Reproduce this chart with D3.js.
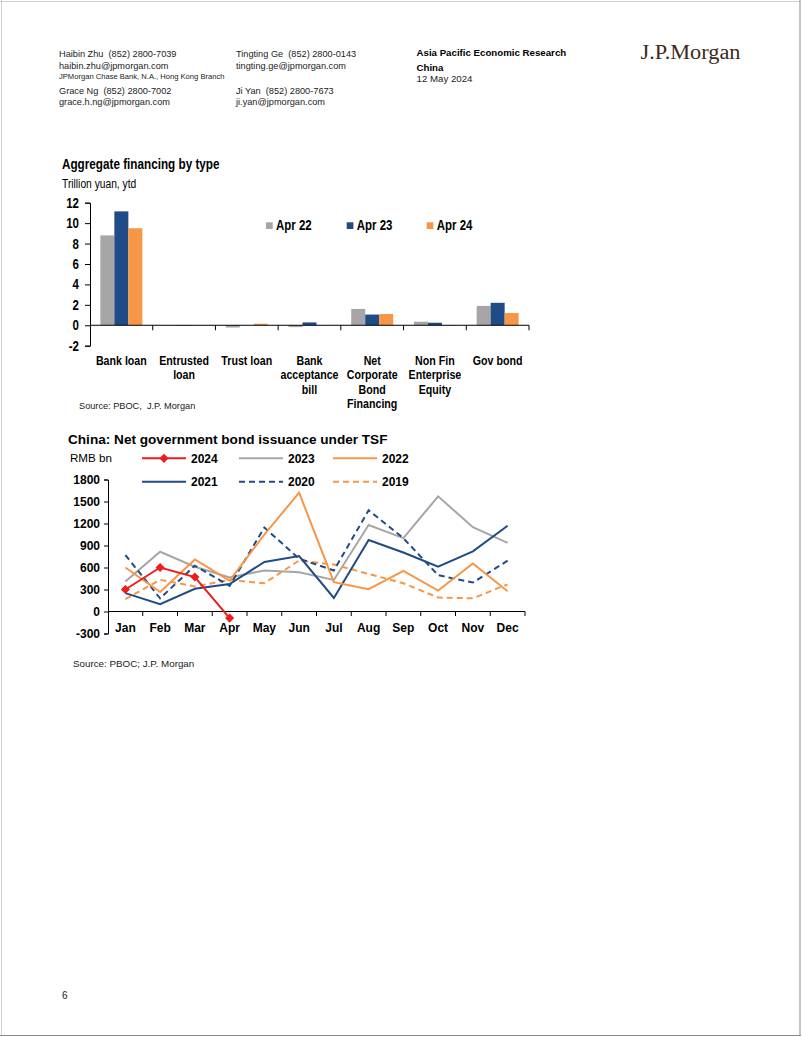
<!DOCTYPE html>
<html><head><meta charset="utf-8">
<script src="https://cdn.jsdelivr.net/npm/d3@7"></script>
<style>
html,body{margin:0;padding:0;background:#fff;}
svg{display:block;}
text{font-family:'Liberation Sans',Arial,sans-serif;fill:#000;white-space:pre;}
</style></head><body>
<svg id="page" width="802" height="1037"></svg>
<script>
// ---------- data: bar chart ----------
const barCategories = [["Bank loan"],["Entrusted","loan"],["Trust loan"],["Bank","acceptance","bill"],["Net","Corporate","Bond","Financing"],["Non Fin","Enterprise","Equity"],["Gov bond"]];
const barSeries = ["Apr 22","Apr 23","Apr 24"];
const apr22 = [8.8, 0.02, -0.22, -0.18, 1.6, 0.35, 1.9];
const apr23 = [11.15, -0.03, 0.0, 0.28, 1.05, 0.25, 2.2];
const apr24 = [9.5, 0.02, 0.15, 0.02, 1.1, 0.03, 1.2];
const barTicks = [-2, 0, 2, 4, 6, 8, 10, 12];

// ---------- data: line chart ----------
const months = ["Jan","Feb","Mar","Apr","May","Jun","Jul","Aug","Sep","Oct","Nov","Dec"];
const y2024 = [300, 600, 470, -90];
const y2023 = [410, 815, 610, 465, 560, 535, 430, 1180, 1000, 1570, 1150, 935];
const y2022 = [600, 265, 710, 420, 1050, 1620, 400, 305, 555, 285, 655, 275];
const y2021 = [250, 100, 310, 375, 675, 755, 185, 975, 805, 612, 820, 1170];
const y2020 = [770, 180, 625, 350, 1145, 720, 560, 1380, 1000, 495, 395, 693];
const y2019 = [170, 432, 342, 430, 385, 695, 640, 512, 385, 190, 180, 370];
const lineSeriesNames = ["2024","2023","2022","2021","2020","2019"];
const lineTicks = [-300, 0, 300, 600, 900, 1200, 1500, 1800];

const C = {gray:"#A6A6A6", navy:"#1F4B87", orange:"#F79646", red:"#EE1C1C"};
const NS = 0.82; // narrow-font horizontal compression
const svg = d3.select("#page");
function narrowText(parent, x, y, size, bold, str, anchor){
  const t = parent.append("text").attr("transform",`translate(${x},${y}) scale(${NS},1)`)
    .style("font-size",size+"px").style("font-weight",bold?"bold":"normal");
  if(anchor) t.attr("text-anchor",anchor);
  if(str!=null) t.text(str);
  return t;
}

// page border
svg.append("line").attr("x1",1.5).attr("y1",0).attr("x2",1.5).attr("y2",1035).attr("stroke","#d0d0d0");
svg.append("line").attr("x1",0).attr("y1",1.5).attr("x2",800).attr("y2",1.5).attr("stroke","#d0d0d0");
svg.append("line").attr("x1",800).attr("y1",0).attr("x2",800).attr("y2",1036).attr("stroke","#888");
svg.append("line").attr("x1",0).attr("y1",1035.5).attr("x2",801).attr("y2",1035.5).attr("stroke","#888");

// ---------- header ----------
const hl = [
  [59,57,9.2,"Haibin Zhu  (852) 2800-7039"],[59,68.7,9.2,"haibin.zhu@jpmorgan.com"],
  [59,79.3,7.6,"JPMorgan Chase Bank, N.A., Hong Kong Branch"],
  [59,93.7,9.2,"Grace Ng  (852) 2800-7002"],[59,105.3,9.2,"grace.h.ng@jpmorgan.com"],
  [236,57,9.2,"Tingting Ge  (852) 2800-0143"],[236,68.7,9.2,"tingting.ge@jpmorgan.com"],
  [236,93.7,9.2,"Ji Yan  (852) 2800-7673"],[236,105.3,9.2,"ji.yan@jpmorgan.com"]];
hl.forEach(d=>svg.append("text").attr("x",d[0]).attr("y",d[1]).style("font-size",d[2]+"px").style("fill","#222").text(d[3]));
svg.append("text").attr("x",416.5).attr("y",56.3).style("font-size","9.7px").style("font-weight","bold").text("Asia Pacific Economic Research");
svg.append("text").attr("x",416.5).attr("y",70.7).style("font-size","9.7px").style("font-weight","bold").text("China");
svg.append("text").attr("x",416.5).attr("y",82.3).style("font-size","9.7px").style("fill","#222").text("12 May 2024");
svg.append("text").attr("x",640.5).attr("y",59).attr("textLength",100).attr("lengthAdjust","spacingAndGlyphs")
  .style("font-family","'Liberation Serif','Times New Roman',serif").style("font-size","20px").style("fill","#3b2a20").text("J.P.Morgan");
svg.append("text").attr("x",62).attr("y",999).style("font-size","10px").style("fill","#222").text("6");

// ---------- bar chart ----------
{
  const g = svg.append("g");
  const x = d3.scaleBand().domain(d3.range(barCategories.length)).range([90,529]).paddingInner(0).paddingOuter(0);
  const xs = d3.scaleBand().domain(barSeries).range([0,x.bandwidth()]).paddingInner(0).paddingOuter(0.74);
  const y = d3.scaleLinear().domain([-2,12]).range([345.7,202.7]);
  const vals = [apr22, apr23, apr24];
  const cols = [C.gray, C.navy, C.orange];

  narrowText(g, 62, 169, 14.3, true, "Aggregate financing by type");
  narrowText(g, 62, 188.3, 12.5, false, "Trillion yuan, ytd");

  barSeries.forEach((s,si)=>{
    g.append("g").selectAll("rect").data(vals[si]).join("rect")
      .attr("x",(d,i)=>x(i)+xs(s)).attr("width",xs.bandwidth())
      .attr("y",d=>y(Math.max(0,d))).attr("height",d=>Math.abs(y(d)-y(0)))
      .attr("fill",cols[si]);
  });

  const ya = d3.axisLeft(y).tickValues(barTicks).tickSize(5).tickPadding(6).tickFormat(d3.format("d"));
  const yg = g.append("g").attr("transform","translate(90,0)").call(ya);
  yg.select(".domain").attr("stroke","#000");
  yg.selectAll(".tick line").attr("stroke","#000");
  yg.selectAll(".tick text").attr("x",-11/NS).attr("transform",`scale(${NS},1)`)
    .style("font-size","14px").style("font-weight","bold").attr("fill","#000").text(d=>d<0?"-"+Math.abs(d):d);

  // x axis at zero
  g.append("line").attr("x1",90).attr("x2",529).attr("y1",y(0)).attr("y2",y(0)).attr("stroke","#000");
  g.selectAll(".xt").data(d3.range(1,barCategories.length+1)).join("line").attr("class","xt")
    .attr("x1",d=>90+d*x.step()).attr("x2",d=>90+d*x.step()).attr("y1",y(0)).attr("y2",y(0)+5).attr("stroke","#000");
  barCategories.forEach((lines,i)=>{
    const t = narrowText(g, x(i)+x.bandwidth()/2, 0, 13, true, null, "middle");
    lines.forEach((l,j)=>t.append("tspan").attr("x",0).attr("y",365+j*14.5).text(l));
  });

  // legend
  const lx = [266, 346.7, 426.7];
  barSeries.forEach((s,i)=>{
    g.append("rect").attr("x",lx[i]).attr("y",222.3).attr("width",6.7).attr("height",6.7).attr("fill",cols[i]);
    narrowText(g, lx[i]+10, 229.5, 14, true, s);
  });
  g.append("text").attr("x",79).attr("y",409.3).style("font-size","9.2px").style("fill","#222").text("Source: PBOC,  J.P. Morgan");
}

// ---------- line chart ----------
{
  const g = svg.append("g");
  const x = d3.scaleBand().domain(months).range([108,525]);
  const y = d3.scaleLinear().domain([-300,1800]).range([633.5,479.5]);
  g.append("text").attr("x",68).attr("y",444.3).style("font-size","13.6px").style("font-weight","bold").text("China: Net government bond issuance under TSF");
  g.append("text").attr("x",70).attr("y",462.3).style("font-size","11.6px").text("RMB bn");

  const ya = d3.axisLeft(y).tickValues(lineTicks).tickSize(4).tickPadding(4).tickFormat(d3.format("d"));
  const yg = g.append("g").attr("transform","translate(108,0)").call(ya);
  yg.select(".domain").attr("stroke","#000");
  yg.selectAll(".tick line").attr("stroke","#000");
  yg.selectAll("text").style("font-size","12px").style("font-weight","bold").attr("fill","#000").text(d=>d<0?"-"+Math.abs(d):d);

  g.append("line").attr("x1",108).attr("x2",525).attr("y1",y(0)).attr("y2",y(0)).attr("stroke","#000");
  g.selectAll(".mt").data(d3.range(1,months.length+1)).join("line").attr("class","mt")
    .attr("x1",d=>108+d*x.step()).attr("x2",d=>108+d*x.step()).attr("y1",y(0)).attr("y2",y(0)+4.5).attr("stroke","#000");
  g.selectAll(".ml").data(months).join("text").attr("class","ml").attr("text-anchor","middle")
    .attr("x",d=>x(d)+x.bandwidth()/2).attr("y",632).style("font-size","12px").style("font-weight","bold").text(d=>d);

  const series = [
    {name:"2023", v:y2023, c:C.gray, dash:null},
    {name:"2019", v:y2019, c:C.orange, dash:"6,4"},
    {name:"2020", v:y2020, c:C.navy, dash:"6,4"},
    {name:"2021", v:y2021, c:C.navy, dash:null},
    {name:"2022", v:y2022, c:C.orange, dash:null},
    {name:"2024", v:y2024, c:C.red, dash:null, marker:true}];
  const line = d3.line().x((d,i)=>x(months[i])+x.bandwidth()/2).y(d=>y(d));
  const diamond = d3.symbol(d3.symbolSquare,42);
  series.forEach(s=>{
    g.append("path").attr("d",line(s.v)).attr("fill","none").attr("stroke",s.c).attr("stroke-width",2)
      .attr("stroke-dasharray",s.dash).attr("stroke-linejoin","miter");
    if(s.marker){
      g.selectAll(".mk").data(s.v).join("path").attr("class","mk")
        .attr("transform",(d,i)=>`translate(${x(months[i])+x.bandwidth()/2},${y(d)}) rotate(45)`)
        .attr("d",diamond).attr("fill",s.c);
    }
  });

  // legend
  const legPos = {"2024":[142,458.3],"2023":[239,458.3],"2022":[333,458.3],"2021":[142,481.7],"2020":[239,481.7],"2019":[333,481.7]};
  lineSeriesNames.forEach(n=>{
    const s = series.find(q=>q.name===n);
    const [lx,ly] = legPos[n];
    g.append("line").attr("x1",lx).attr("x2",lx+44).attr("y1",ly).attr("y2",ly).attr("stroke",s.c).attr("stroke-width",2).attr("stroke-dasharray",s.dash);
    if(s.marker) g.append("path").attr("transform",`translate(${lx+22},${ly}) rotate(45)`).attr("d",diamond).attr("fill",s.c);
    g.append("text").attr("x",lx+49).attr("y",ly+4.2).style("font-size","12px").style("font-weight","bold").text(n);
  });
  g.append("text").attr("x",73).attr("y",666.7).style("font-size","9.8px").style("fill","#222").text("Source: PBOC; J.P. Morgan");
}
</script>
</body></html>
